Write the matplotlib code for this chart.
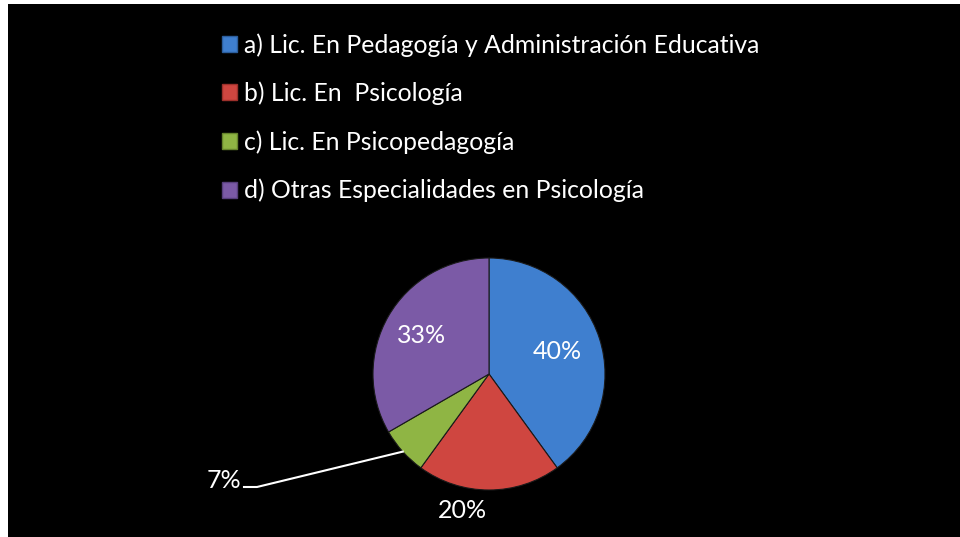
import numpy as np
import matplotlib
matplotlib.use('Agg')
import matplotlib.pyplot as plt
from matplotlib.patches import Patch, Rectangle

plt.rcParams['font.family'] = ['Lato', 'DejaVu Sans']

# datos
categorias = ['a) Lic. En Pedagogía y Administración Educativa',
              'b) Lic. En  Psicología',
              'c) Lic. En Psicopedagogía',
              'd) Otras Especialidades en Psicología']
valores = [12, 6, 2, 10]
etiquetas = ['40%', '20%', '7%', '33%']
colores = ['#3f7fcf', '#cf4640', '#8fb544', '#7b5aa6']
bordes = ['#2c5e9c', '#9c302b', '#66842c', '#573f7c']

W, H = 960, 537
fig = plt.figure(figsize=(9.6, 5.37), dpi=100, facecolor='white')
# fondo negro
fig.patches.append(Rectangle((8 / W, 0), 1, 533 / H, transform=fig.transFigure,
                             facecolor='black', edgecolor='none', zorder=-5))

ax = fig.add_axes([0, 0, 1, 1])
ax.set_zorder(2)
ax.patch.set_alpha(0)

cx, cy, r = 489, H - 374, 116
wedges, _ = ax.pie(valores, colors=colores, startangle=90, counterclock=False,
                   center=(cx, cy), radius=r, frame=True,
                   wedgeprops=dict(edgecolor='#1a1a1a', linewidth=0.8))
ax.set_xlim(0, W)
ax.set_ylim(0, H)
ax.set_aspect('equal')
ax.axis('off')

# etiquetas de datos
dist = [0.62, 1.2, None, 0.67]
for w, lab, d in zip(wedges, etiquetas, dist):
    ang = np.deg2rad((w.theta1 + w.theta2) / 2)
    if d is None:
        # etiqueta externa con linea guia
        x0, y0 = cx + r * np.cos(ang), cy + r * np.sin(ang)
        x1, y1 = cx - 232, cy - 113
        ax.plot([x0, x1, x1 - 13], [y0, y1, y1], color='white', lw=1.5)
        ax.text(x1 - 16, y1 + 6, lab, color='white', fontsize=18,
                ha='right', va='center')
        continue
    if lab == '20%':
        ang = np.deg2rad(-101)
    ax.text(cx + d * r * np.cos(ang), cy + d * r * np.sin(ang), lab,
            color='white', fontsize=18, ha='center', va='center')

handles = [Patch(facecolor=c, edgecolor=b, linewidth=1) for c, b in zip(colores, bordes)]
leg = fig.legend(handles, categorias, loc='upper left',
                 bbox_to_anchor=(222 / W, 1 - 33 / H), frameon=False,
                 fontsize=17.8, labelcolor='white', handlelength=0.62,
                 handleheight=0.62, handletextpad=0.25, labelspacing=1.01,
                 borderpad=0, borderaxespad=0)
leg.set_zorder(3)

fig.savefig('out.png', dpi=100, facecolor='white')
